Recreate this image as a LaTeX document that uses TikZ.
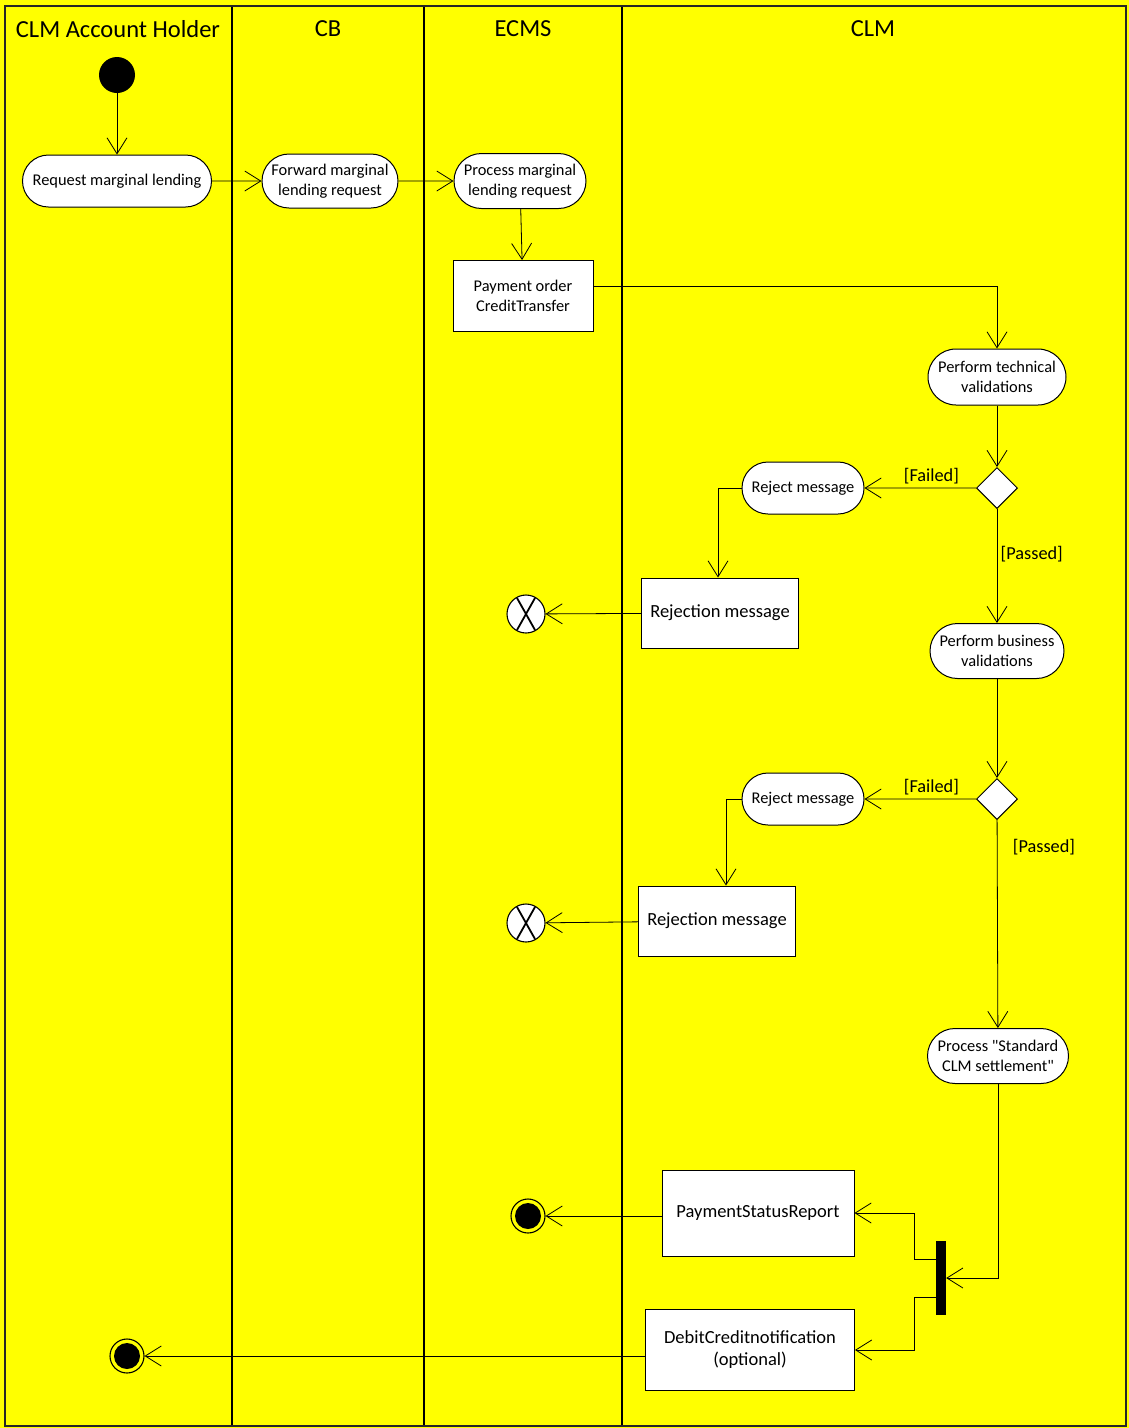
\documentclass[tikz,border=0pt]{standalone}
\usepackage{fontspec}
\setmainfont{Carlito}
\usetikzlibrary{positioning,arrows.meta,shapes.geometric,shapes.misc,calc}
\definecolor{laneyellow}{RGB}{255,255,0}

\begin{document}
\begin{tikzpicture}[x=1pt, y=-1pt,
    act/.style={rounded rectangle, draw, fill=white, line width=1pt, align=center, inner sep=0pt, font=\fontsize{16.4}{20}\selectfont},
    msg/.style={rectangle, draw, fill=white, line width=1pt, align=center, inner sep=0pt, font=\fontsize{18.5}{22}\selectfont},
    decision/.style={diamond, draw, fill=white, line width=1pt, minimum size=41pt, inner sep=0pt},
    startnode/.style={circle, fill=black, minimum size=36pt, inner sep=0pt},
    finalnode/.style={circle, draw, line width=1.1pt, fill=laneyellow, minimum size=34pt, inner sep=0pt,
        path picture={\fill[black] (path picture bounding box.center) circle (13pt);}},
    flowend/.style={circle, draw, line width=1.1pt, fill=white, minimum size=38pt, inner sep=0pt,
        path picture={
            \draw[line width=1.8pt] ([shift={(-9,-16)}]path picture bounding box.center) -- ([shift={(9,16)}]path picture bounding box.center);
            \draw[line width=1.8pt] ([shift={(9,-16)}]path picture bounding box.center) -- ([shift={(-9,16)}]path picture bounding box.center);}},
    bar/.style={rectangle, fill=black, minimum width=10pt, minimum height=74pt, inner sep=0pt},
    lane/.style={font=\fontsize{24.5}{28}\selectfont},
    guard/.style={font=\fontsize{18.3}{22}\selectfont},
    conn/.style={line width=0.8pt, -{Straight Barb[length=16pt,width=20pt,line width=0.8pt]}}]

    % background and swimlanes
    \fill[laneyellow] (0,0) rectangle (1129,1428);
    \useasboundingbox (0,0) rectangle (1129,1428);
    \foreach \x in {232, 424, 622}
        \draw[line width=1.8pt] (\x,6) -- (\x,1426);
    \draw[line width=2.4pt, black!85] (5,6) rectangle (1126,1426);

    \node[lane] (laneAH) at (118,29) {CLM Account Holder};
    \node[lane] (laneCB) at (328,29) {CB};
    \node[lane] (laneECMS) at (523,29) {ECMS};
    \node[lane] (laneCLM) at (873,29) {CLM};

    % nodes
    \node[startnode] (start) at (117,75) {};
    \node[act, minimum width=189pt, minimum height=52pt] (request) at (117,181) {Request marginal lending};
    \node[act, minimum width=136pt, minimum height=54pt] (forward) at (330,181) {Forward marginal\\lending request};
    \node[act, minimum width=132pt, minimum height=55pt] (process) at (520,181) {Process marginal\\lending request};
    \node[msg, minimum width=140pt, minimum height=71pt, font=\fontsize{16.4}{20}\selectfont] (payorder) at (523,296) {Payment order\\CreditTransfer};

    \node[act, minimum width=138pt, minimum height=56pt] (techval) at (997,377) {Perform technical\\validations};
    \node[decision] (dec1) at (997,488) {};
    \node[act, minimum width=122pt, minimum height=52pt] (reject1) at (803,488) {Reject message};
    \node[msg, minimum width=157pt, minimum height=70pt] (rejmsg1) at (720,613) {Rejection message};
    \node[flowend] (xend1) at (526,614) {};

    \node[act, minimum width=134pt, minimum height=55pt] (bizval) at (997,651) {Perform business\\validations};
    \node[decision] (dec2) at (997,799) {};
    \node[act, minimum width=122pt, minimum height=52pt] (reject2) at (803,799) {Reject message};
    \node[msg, minimum width=157pt, minimum height=70pt] (rejmsg2) at (717,921) {Rejection message};
    \node[flowend] (xend2) at (526,923) {};

    \node[act, minimum width=141pt, minimum height=55pt] (settle) at (998,1056) {Process \textquotedbl Standard\\CLM settlement\textquotedbl};
    \node[bar] (fork) at (941,1278) {};
    \node[msg, minimum width=192pt, minimum height=86pt] (statusrep) at (758,1213) {PaymentStatusReport};
    \node[msg, minimum width=209pt, minimum height=81pt] (debcred) at (750,1350) {DebitCreditnotification\\(optional)};
    \node[finalnode] (final1) at (528,1216) {};
    \node[finalnode] (final2) at (127,1356) {};

    % connectors
    \draw[conn] (start) -- (request);
    \draw[conn] (request) -- (forward);
    \draw[conn] (forward) -- (process);
    \draw[conn] (process) -- (payorder);
    \draw[conn] ([yshift=10pt]payorder.east) -| (techval);
    \draw[conn] (techval) -- (dec1);
    \draw[conn] (dec1) -- node[guard, above, pos=0.4] {[Failed]} (reject1);
    \draw[conn] (reject1.west) -| ([xshift=-2pt]rejmsg1.north);
    \draw[conn] (rejmsg1) -- (xend1);
    \draw[conn] (dec1) -- node[guard, right, pos=0.4] {[Passed]} (bizval);
    \draw[conn] (bizval) -- (dec2);
    \draw[conn] (dec2) -- node[guard, above, pos=0.4] {[Failed]} (reject2);
    \draw[conn] (reject2.west) -| ([xshift=9pt]rejmsg2.north);
    \draw[conn] (rejmsg2) -- (xend2);
    \draw[conn] (dec2) -- node[guard, right=12pt, pos=0.13] {[Passed]} (settle);
    \draw[conn] (settle) |- (fork);
    \draw[conn] ([yshift=19pt]fork.west) -- ++(-21,0) |- (statusrep.east);
    \draw[conn] ([yshift=-19pt]fork.west) -- ++(-21,0) |- (debcred.east);
    \draw[conn] (statusrep.west |- final1) -- (final1);
    \draw[conn] (debcred.west |- final2) -- (final2);
\end{tikzpicture}
\end{document}
